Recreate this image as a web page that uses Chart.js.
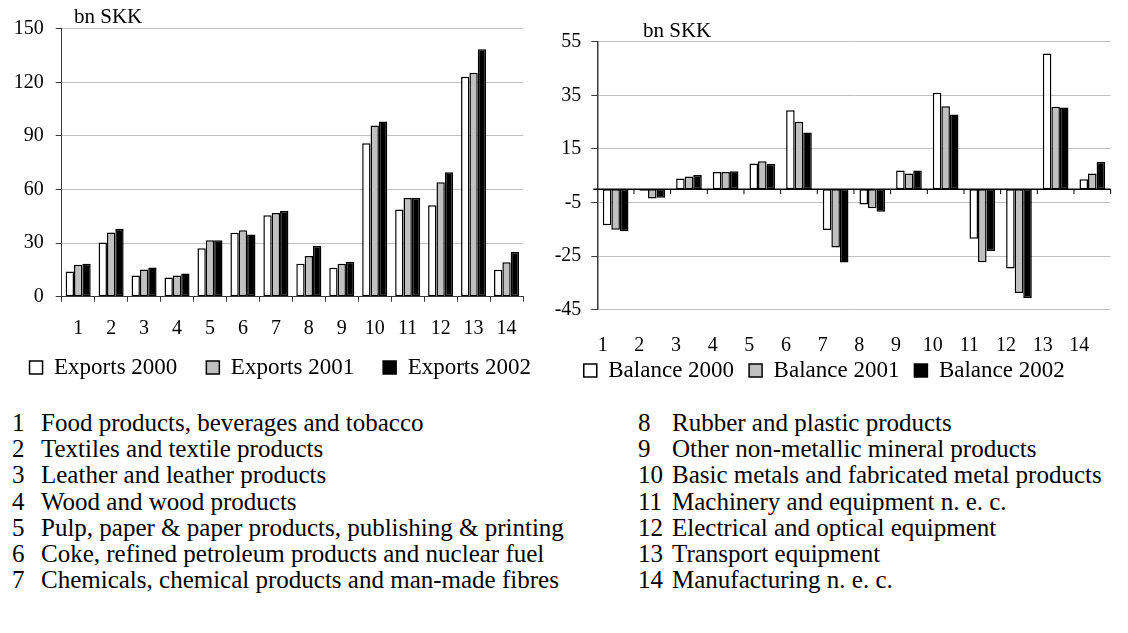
<!DOCTYPE html>
<html>
<head>
<meta charset="utf-8">
<script src="https://cdn.jsdelivr.net/npm/chart.js@4.4.1/dist/chart.umd.min.js"></script>
<style>
  body {
    margin: 0;
    width: 1128px;
    height: 633px;
    position: relative;
    overflow: hidden;
    background: #fff;
    color: #000;
    font-family: "Liberation Serif", "Tinos", "Times New Roman", "DejaVu Serif", serif;
  }
  canvas { position: absolute; top: 0; }
  #leftChart { left: 0; }
  #rightChart { left: 532px; }
  .unit { position: absolute; font-size: 21px; line-height: 21px; white-space: nowrap; }
  .item { position: absolute; font-size: 25px; line-height: 26.2px; white-space: nowrap; }
</style>
</head>
<body>
<canvas id="leftChart" width="572" height="389"></canvas>
<canvas id="rightChart" width="596" height="392"></canvas>
<div class="unit" style="left:74px; top:6px;">bn SKK</div>
<div class="unit" style="left:643px; top:20px;">bn SKK</div>
<div id="list"></div>

<script>
const categories = ["1", "2", "3", "4", "5", "6", "7", "8", "9", "10", "11", "12", "13", "14"];

const industries = [
  "Food products, beverages and tobacco",
  "Textiles and textile products",
  "Leather and leather products",
  "Wood and wood products",
  "Pulp, paper & paper products, publishing & printing",
  "Coke, refined petroleum products and nuclear fuel",
  "Chemicals, chemical products and man-made fibres",
  "Rubber and plastic products",
  "Other non-metallic mineral products",
  "Basic metals and fabricated metal products",
  "Machinery and equipment n. e. c.",
  "Electrical and optical equipment",
  "Transport equipment",
  "Manufacturing n. e. c.",
];

// bn SKK
const exports2000 = [14.2, 30.4, 11.9, 10.8, 27.2, 35.9, 45.6, 18.5, 16.3, 85.9, 48.9, 51.2, 123.1, 15.1];
const exports2001 = [17.9, 36.0, 15.3, 11.9, 31.7, 37.2, 46.9, 22.8, 18.5, 95.9, 55.3, 64.1, 125.3, 19.4];
const exports2002 = [18.5, 38.1, 16.4, 13.0, 31.7, 34.9, 48.0, 28.4, 19.6, 98.1, 55.3, 69.7, 138.5, 25.0];

const balance2000 = [-13.5, -0.6, 4.0, 6.4, 9.6, 29.4, -15.2, -5.7, 7.0, 36.0, -18.5, -29.6, 50.6, 3.7];
const balance2001 = [-15.1, -3.5, 4.7, 6.4, 10.4, 25.1, -21.8, -7.1, 5.8, 30.9, -27.3, -38.7, 30.7, 5.8];
const balance2002 = [-15.7, -3.2, 5.3, 6.7, 9.5, 21.1, -27.4, -8.4, 7.0, 27.8, -23.1, -40.6, 30.5, 10.2];

const exportTicks = [0, 30, 60, 90, 120, 150];
const balanceTicks = [-45, -25, -5, 15, 35, 55];

const FONT = "'Liberation Serif', 'Tinos', 'Times New Roman', 'DejaVu Serif', serif";
const WHITE = "#ffffff";
const GREY = "#c0c0c0";
const BLACK = "#000000";
const GRID = "#c0c0c0";
const AXIS = "#3a3a3a";
const LEGEND_SIZE = 23;
const BOX = 13;

Chart.defaults.font.family = FONT;
Chart.defaults.color = "#000";

function bars(label, data, color, catPct) {
  return {
    label,
    data,
    backgroundColor: color,
    borderColor: BLACK,
    borderWidth: 1.5,
    borderSkipped: false,
    categoryPercentage: catPct,
    barPercentage: 1,
  };
}

function fixTicks(values) {
  return (scale) => {
    scale.ticks = values.map((v) => ({ value: v }));
  };
}

// pads legend texts with spaces so the items sit `step` px apart
function spacedLabels(step, pad) {
  return (chart) => {
    const items = Chart.defaults.plugins.legend.labels.generateLabels(chart);
    const ctx = chart.ctx;
    ctx.save();
    ctx.font = Chart.helpers.toFont({ size: LEGEND_SIZE, family: FONT }).string;
    const target = step - BOX - LEGEND_SIZE / 2 - pad;
    items.forEach((it) => {
      let t = it.text;
      while (ctx.measureText(t + " ").width <= target) t += " ";
      it.text = t;
    });
    ctx.restore();
    return items;
  };
}

// zero line with small tick marks between categories (balance chart)
const zeroAxis = {
  id: "zeroAxis",
  afterDatasetsDraw(chart) {
    const { ctx, chartArea, scales } = chart;
    const x = scales.x;
    const y0 = scales.y.getPixelForValue(0);
    const half = (x.getPixelForValue(1) - x.getPixelForValue(0)) / 2;
    ctx.save();
    ctx.strokeStyle = BLACK;
    ctx.lineWidth = 1.5;
    ctx.beginPath();
    ctx.moveTo(chartArea.left - 4, y0);
    ctx.lineTo(chartArea.right, y0);
    ctx.stroke();
    ctx.lineWidth = 1;
    for (let i = 0; i < categories.length; i++) {
      const px = x.getPixelForValue(i) + half;
      ctx.beginPath();
      ctx.moveTo(px, y0);
      ctx.lineTo(px, y0 + 5);
      ctx.stroke();
    }
    ctx.restore();
  },
};

new Chart(document.getElementById("leftChart"), {
  type: "bar",
  data: {
    labels: categories,
    datasets: [
      bars("Exports 2000", exports2000, WHITE, 0.76),
      bars("Exports 2001", exports2001, GREY, 0.76),
      bars("Exports 2002", exports2002, BLACK, 0.76),
    ],
  },
  options: {
    responsive: false,
    animation: false,
    layout: { padding: { top: 28.7 } },
    plugins: {
      legend: {
        position: "bottom",
        align: "center",
        labels: {
          boxWidth: BOX,
          boxHeight: BOX,
          padding: 17.5,
          color: "#000",
          font: { size: LEGEND_SIZE, family: FONT },
          generateLabels: spacedLabels(178, 17.5),
        },
      },
      tooltip: { enabled: false },
    },
    scales: {
      x: {
        grid: { display: true, offset: true, drawOnChartArea: false, tickLength: 5, color: AXIS, tickColor: AXIS },
        border: { display: true, color: AXIS, width: 1 },
        ticks: { font: { size: 20, lineHeight: 1 }, padding: 16.7, maxRotation: 0, autoSkip: false, color: "#000" },
        afterFit: (s) => { s.height = 41.7; },
      },
      y: {
        min: 0,
        max: 150,
        afterBuildTicks: fixTicks(exportTicks),
        grid: { color: GRID, tickColor: AXIS, tickLength: 6 },
        border: { color: AXIS, width: 1 },
        ticks: { font: { size: 20 }, padding: 12, color: "#000" },
        afterFit: (s) => { s.width = 61.7; },
      },
      // keeps the plot narrower than the legend row
      yPad: {
        position: "right",
        grid: { display: false },
        border: { display: false },
        ticks: { display: false },
        afterFit: (s) => { s.width = 49; },
      },
    },
  },
});

new Chart(document.getElementById("rightChart"), {
  type: "bar",
  data: {
    labels: categories,
    datasets: [
      bars("Balance 2000", balance2000, WHITE, 0.7),
      bars("Balance 2001", balance2001, GREY, 0.7),
      bars("Balance 2002", balance2002, BLACK, 0.7),
    ],
  },
  options: {
    responsive: false,
    animation: false,
    layout: { padding: { top: 41.7 } },
    plugins: {
      legend: {
        position: "bottom",
        align: "center",
        labels: {
          boxWidth: BOX,
          boxHeight: BOX,
          padding: 3.5,
          color: "#000",
          font: { size: LEGEND_SIZE, family: FONT },
          generateLabels: spacedLabels(166, 3.5),
        },
      },
      tooltip: { enabled: false },
    },
    scales: {
      x: {
        grid: { display: false, drawTicks: false },
        border: { display: false },
        ticks: { font: { size: 20, lineHeight: 1 }, padding: 25.7, labelOffset: -13, maxRotation: 0, autoSkip: false, color: "#000" },
        afterFit: (s) => { s.height = 45.7; },
      },
      y: {
        min: -45,
        max: 55,
        afterBuildTicks: fixTicks(balanceTicks),
        grid: { color: GRID, tickColor: AXIS, tickLength: 6 },
        border: { color: AXIS, width: 1.5 },
        ticks: { font: { size: 20 }, padding: 10, color: "#000" },
        afterFit: (s) => { s.width = 65.3; },
      },
    },
  },
  plugins: [zeroAxis],
});

// numbered key below the charts
const list = document.getElementById("list");
industries.forEach((name, i) => {
  const col = i < 7 ? 0 : 1;
  const row = i % 7;
  const top = 423 - 13.1 + row * 26.2;
  const num = document.createElement("div");
  num.className = "item";
  num.style.left = (col === 0 ? 12 : 638) + "px";
  num.style.top = top + "px";
  num.textContent = categories[i];
  const txt = document.createElement("div");
  txt.className = "item";
  txt.style.left = (col === 0 ? 41 : 672) + "px";
  txt.style.top = top + "px";
  txt.textContent = name;
  list.appendChild(num);
  list.appendChild(txt);
});
</script>
</body>
</html>
